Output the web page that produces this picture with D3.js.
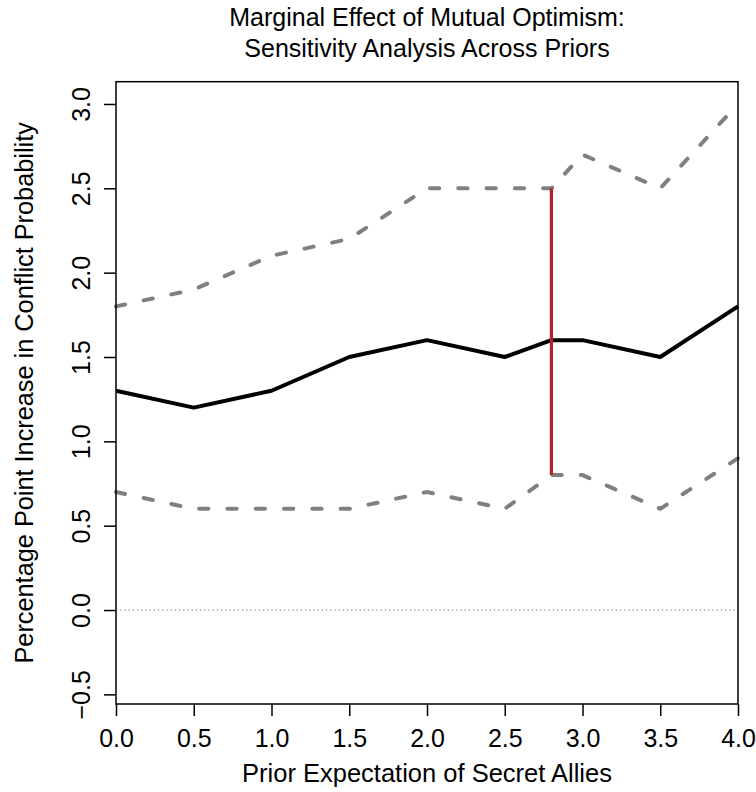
<!DOCTYPE html>
<html lang="en">
<head>
    <meta charset="utf-8">
    <script src="https://cdn.jsdelivr.net/npm/d3@7"></script>
    <style>
        body { margin: 0; background: #fff; }
        text { font-family: "Liberation Sans", Arial, Helvetica, sans-serif; fill: #000; }
    </style>
</head>

<body>
<div id="svg"></div>

<script>
    // prior values (x) and the estimated marginal effect with its bounds
    var priors = [0, 0.5, 1, 1.5, 2, 2.5, 2.8, 3, 3.5, 4];
    var effect = [1.3, 1.2, 1.3, 1.5, 1.6, 1.5, 1.6, 1.6, 1.5, 1.8];
    var upper  = [1.8, 1.9, 2.1, 2.2, 2.5, 2.5, 2.5, 2.7, 2.5, 3.0];
    var lower  = [0.7, 0.6, 0.6, 0.6, 0.7, 0.6, 0.8, 0.8, 0.6, 0.9];

    // highlighted prior (red bar)
    var markPrior = 2.8;
    var markLow = 0.8, markHigh = 2.5;

    var xTicks = [0, 0.5, 1, 1.5, 2, 2.5, 3, 3.5, 4];
    var yTicks = [-0.5, 0, 0.5, 1, 1.5, 2, 2.5, 3];

    var W = 756, H = 792;
    var margin = {top: 81.7, right: 18, bottom: 88, left: 116};

    var svg = d3.select("#svg").append("svg")
        .attr("width", W)
        .attr("height", H);

    var x = d3.scaleLinear().domain([0, 4]).range([margin.left, W - margin.right]);
    var y = d3.scaleLinear().domain([-0.557, 3.132]).range([H - margin.bottom, margin.top]);

    // zero reference line
    svg.append("line")
        .attr("x1", x(0)).attr("x2", x(4))
        .attr("y1", y(0)).attr("y2", y(0))
        .style("stroke", "#888")
        .style("stroke-width", 1.2)
        .style("stroke-dasharray", "1.2,3");

    var pts = function(vals){
        return priors.map(function(p, i){ return [p, vals[i]]; });
    };
    var line = d3.line()
        .x(function(d){ return x(d[0]); })
        .y(function(d){ return y(d[1]); });

    [upper, lower].forEach(function(b){
        svg.append("path")
            .attr("d", line(pts(b)))
            .style("fill", "none")
            .style("stroke", "#808080")
            .style("stroke-width", 4)
            .style("stroke-linecap", "round")
            .style("stroke-dasharray", "9.3,19");
    });

    svg.append("path")
        .attr("d", line(pts(effect)))
        .style("fill", "none")
        .style("stroke", "#000")
        .style("stroke-width", 4)
        .style("stroke-linejoin", "round");

    svg.append("line")
        .attr("x1", x(markPrior)).attr("x2", x(markPrior))
        .attr("y1", y(markLow)).attr("y2", y(markHigh))
        .style("stroke", "#B8202C")
        .style("stroke-width", 3.2);

    // axes
    var xAxis = svg.append("g")
        .attr("transform", "translate(0," + (H - margin.bottom) + ")")
        .call(d3.axisBottom(x).tickValues(xTicks).tickFormat(d3.format(".1f"))
            .tickSizeOuter(0).tickSize(12).tickPadding(13));
    xAxis.select(".domain").remove();
    xAxis.selectAll("line").style("stroke-width", 1.5);
    xAxis.selectAll("text").style("font-size", "25px").attr("fill", "#000");

    var yAxis = svg.append("g")
        .attr("transform", "translate(" + margin.left + ",0)")
        .call(d3.axisLeft(y).tickValues(yTicks).tickFormat(d3.format(".1f"))
            .tickSizeOuter(0).tickSize(12));
    yAxis.select(".domain").remove();
    yAxis.selectAll("line").style("stroke-width", 1.5);
    yAxis.selectAll("text")
        .attr("x", null).attr("dy", null)
        .attr("text-anchor", "middle")
        .attr("transform", "translate(-26.5,0) rotate(-90)")
        .style("font-size", "25px").attr("fill", "#000")
        .text(function(d){ return d < 0 ? "\u2212" + d3.format(".1f")(-d) : d3.format(".1f")(d); });

    // plot box
    svg.append("rect")
        .attr("x", x(0)).attr("y", margin.top)
        .attr("width", x(4) - x(0))
        .attr("height", H - margin.bottom - margin.top)
        .style("fill", "none")
        .style("stroke", "#000")
        .style("stroke-width", 1.5);

    // titles
    var cx = (x(0) + x(4)) / 2;
    var title = svg.append("text")
        .attr("text-anchor", "middle")
        .style("font-size", "25px");
    title.append("tspan").attr("x", cx).attr("y", 25.7)
        .text("Marginal Effect of Mutual Optimism:");
    title.append("tspan").attr("x", cx).attr("y", 56.7)
        .text("Sensitivity Analysis Across Priors");

    svg.append("text")
        .attr("x", cx).attr("y", 782)
        .attr("text-anchor", "middle")
        .style("font-size", "25.5px")
        .text("Prior Expectation of Secret Allies");

    svg.append("text")
        .attr("transform", "translate(32.5," + ((margin.top + H - margin.bottom) / 2) + ") rotate(-90)")
        .attr("text-anchor", "middle")
        .style("font-size", "25.3px")
        .text("Percentage Point Increase in Conflict Probability");
</script>
</body>
</html>
